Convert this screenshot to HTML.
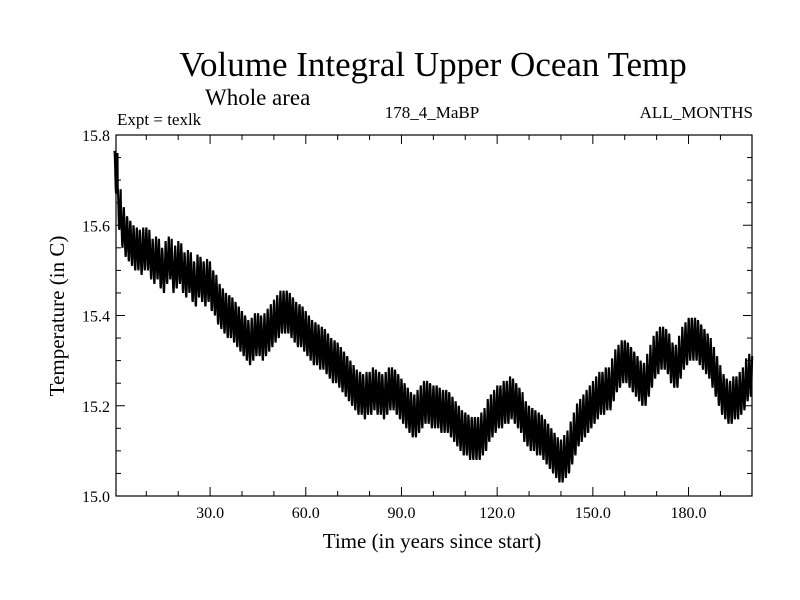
<!DOCTYPE html>
<html><head><meta charset="utf-8"><style>
html,body{margin:0;padding:0;background:#fff;}
svg{display:block;font-family:"Liberation Serif",serif;}
</style></head><body>
<svg id="chart" width="800" height="600" viewBox="0 0 800 600">
<text x="433" y="76" font-size="35" text-anchor="middle">Volume Integral Upper Ocean Temp</text>
<text x="205" y="105" font-size="23">Whole area</text>
<text x="117" y="125" font-size="17">Expt = texlk</text>
<text x="432" y="118" font-size="17" text-anchor="middle">178_4_MaBP</text>
<text x="753" y="118" font-size="17" text-anchor="end">ALL_MONTHS</text>
<text x="432" y="548" font-size="21" text-anchor="middle">Time (in years since start)</text>
<text transform="translate(64,316) rotate(-90)" font-size="21" text-anchor="middle">Temperature (in C)</text>
<g id="plot"></g>
</svg>
<script>
const annualMeans = [
15.72,15.64,15.60,15.58,15.57,15.56,15.55,15.55,15.54,15.55,
15.55,15.53,15.52,15.53,15.51,15.50,15.52,15.53,15.50,15.51,
15.52,15.50,15.49,15.50,15.48,15.47,15.49,15.48,15.47,15.48,
15.46,15.45,15.43,15.42,15.41,15.40,15.40,15.39,15.38,15.37,
15.36,15.35,15.34,15.35,15.36,15.36,15.35,15.36,15.37,15.38,
15.39,15.40,15.41,15.41,15.41,15.40,15.39,15.38,15.38,15.37,
15.36,15.35,15.34,15.34,15.33,15.33,15.32,15.31,15.30,15.30,
15.29,15.28,15.27,15.26,15.25,15.24,15.23,15.23,15.22,15.23,
15.23,15.24,15.23,15.23,15.22,15.23,15.24,15.24,15.23,15.22,
15.21,15.20,15.19,15.18,15.18,15.19,15.20,15.21,15.21,15.20,
15.20,15.20,15.19,15.19,15.19,15.18,15.17,15.16,15.15,15.14,
15.14,15.13,15.13,15.13,15.13,15.14,15.15,15.17,15.18,15.19,
15.20,15.20,15.21,15.21,15.22,15.21,15.20,15.19,15.17,15.16,
15.15,15.15,15.14,15.14,15.13,15.12,15.11,15.10,15.09,15.08,
15.08,15.09,15.10,15.12,15.14,15.16,15.17,15.18,15.19,15.20,
15.21,15.22,15.23,15.23,15.24,15.24,15.26,15.28,15.29,15.30,
15.30,15.29,15.28,15.27,15.26,15.25,15.25,15.27,15.29,15.31,
15.32,15.33,15.33,15.32,15.30,15.29,15.29,15.31,15.33,15.34,
15.35,15.35,15.35,15.34,15.33,15.32,15.31,15.29,15.27,15.25,
15.23,15.22,15.21,15.21,15.22,15.22,15.23,15.24,15.26,15.27];
const seasonalAnomaly = [0.045,0.035,0.015,-0.01,-0.03,-0.045,-0.05,-0.04,-0.02,0.0,0.02,0.04];
const xTickValues = [30,60,90,120,150,180];
const xTickLabels = ["30.0","60.0","90.0","120.0","150.0","180.0"];
const yTickValues = [15.0,15.2,15.4,15.6,15.8];
const yTickLabels = ["15.0","15.2","15.4","15.6","15.8"];

const L=116,R=752,T=135,B=496, X0=0.5, X1=199.9, Y0=15.0, Y1=15.8;
const xs = t => L + (t - X0) / (X1 - X0) * (R - L);
const ys = v => B - (v - Y0) / (Y1 - Y0) * (B - T);
const NS="http://www.w3.org/2000/svg";
const g=document.getElementById('plot');
function mk(tag,attrs){const e=document.createElementNS(NS,tag);for(const k in attrs)e.setAttribute(k,attrs[k]);g.appendChild(e);return e;}

let d="";
annualMeans.forEach((a,yr)=>{seasonalAnomaly.forEach((s,m)=>{
  const t=yr+m/12+0.5/12; const v=a+s;
  d+=(d?"L":"M")+xs(t).toFixed(2)+","+ys(v).toFixed(2);
});});
const line=mk('path',{d:d,fill:'none',stroke:'#000','stroke-width':2.1,'stroke-linejoin':'miter'});



const frame=mk('rect',{x:L,y:T,width:R-L,height:B-T,fill:'none',stroke:'#000','stroke-width':1.2});



for(let t=10;t<X1;t+=10){
  const major = t%30===0, len = major?9:5, x=xs(t);
  const a=mk('line',{x1:x,x2:x,y1:B,y2:B-len,stroke:'#000','stroke-width':1});
  
  
  const b=mk('line',{x1:x,x2:x,y1:T,y2:T+len,stroke:'#000','stroke-width':1});
  
  
}
xTickValues.forEach((v,i)=>{
  const tx=mk('text',{x:xs(v),y:B+22,'font-size':16,'text-anchor':'middle'});
  tx.textContent=xTickLabels[i];
  
  
});
for(let k=1;k<16;k++){
  const v=Y0+k*0.05, major=k%4===0, len=major?9:5, y=ys(v);
  const a=mk('line',{x1:L,x2:L+len,y1:y,y2:y,stroke:'#000','stroke-width':1});
  
  
  const b=mk('line',{x1:R,x2:R-len,y1:y,y2:y,stroke:'#000','stroke-width':1});
  
  
}
yTickValues.forEach((v,i)=>{
  const tx=mk('text',{x:L-6,y:ys(v)+6,'font-size':16,'text-anchor':'end'});
  tx.textContent=yTickLabels[i];
  
  
});
</script>
</body></html>
